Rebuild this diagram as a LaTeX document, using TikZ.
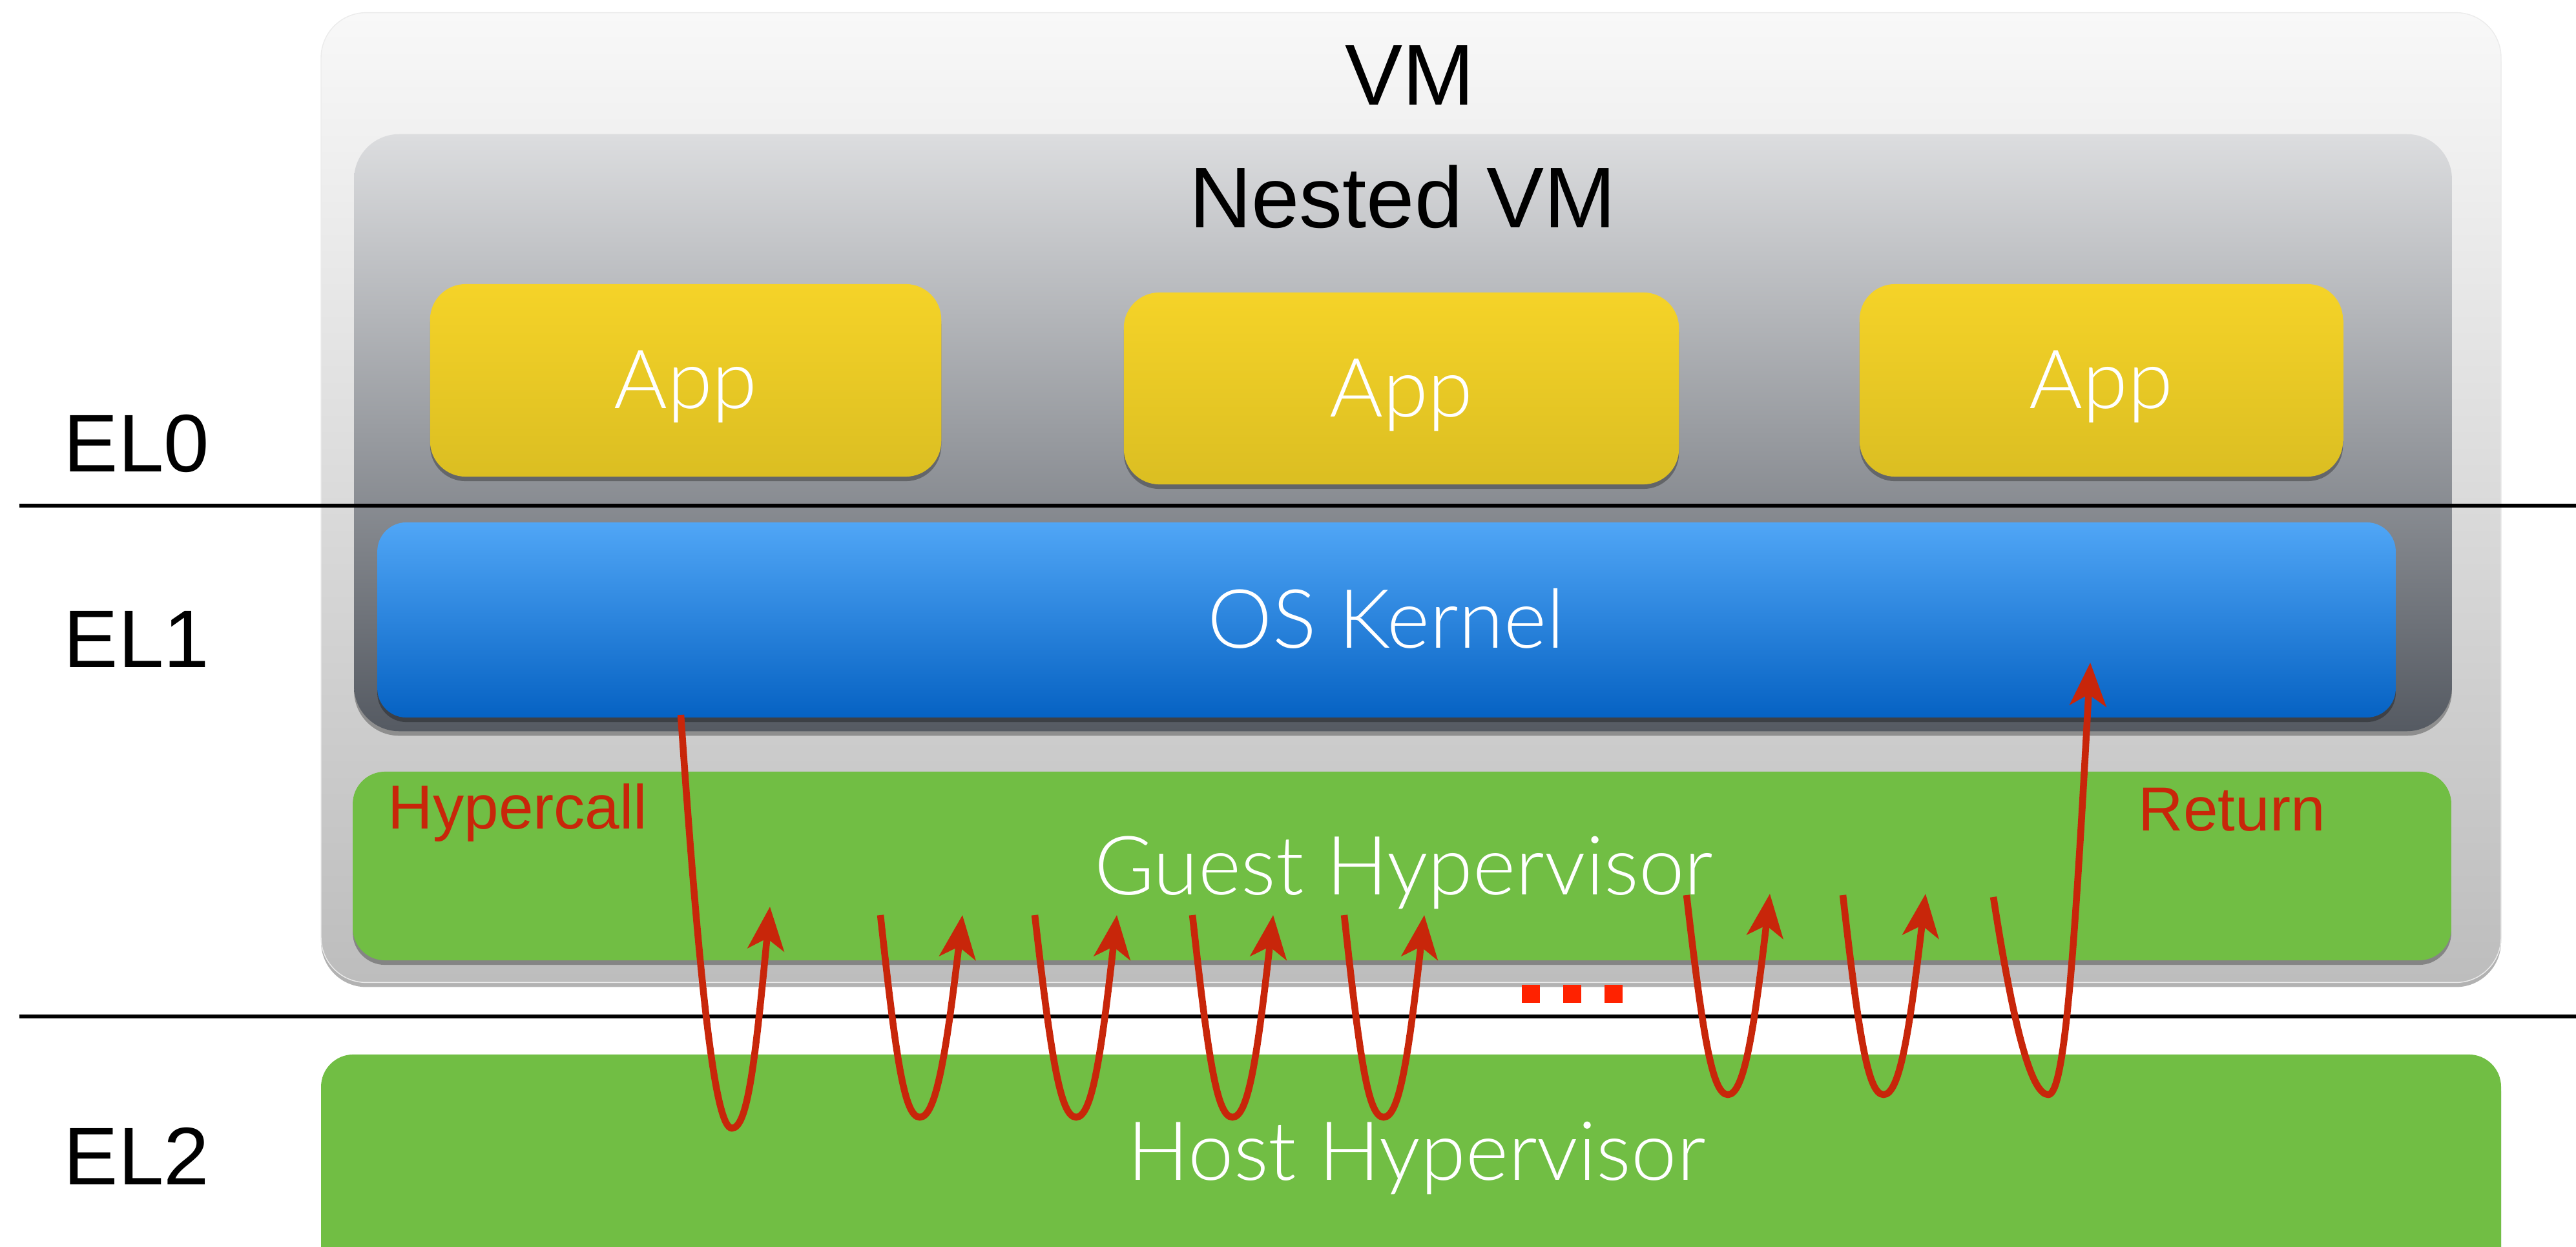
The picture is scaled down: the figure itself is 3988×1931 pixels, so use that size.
\documentclass[tikz,border=0pt]{standalone}
\usepackage{fontspec}
\setmainfont{Liberation Sans}
\newfontfamily\gillfont{Lato Light}
\usetikzlibrary{arrows.meta,calc,shadows}

\definecolor{vmtop}{HTML}{F8F8F8}
\definecolor{vmbot}{HTML}{BDBDBD}
\definecolor{nesttop}{HTML}{DCDDDF}
\definecolor{nestbot}{HTML}{555A62}
\definecolor{apptop}{HTML}{F5D328}
\definecolor{appbot}{HTML}{DBBE22}
\definecolor{ostop}{HTML}{50A6F6}
\definecolor{osbot}{HTML}{0662C3}
\definecolor{hvgreen}{HTML}{71BE44}
\definecolor{callred}{HTML}{C8260A}
\definecolor{dotred}{HTML}{FF2200}

\begin{document}
\begin{tikzpicture}[x=0.01cm,y=-0.01cm,
  layer/.style={rectangle, inner sep=0pt, outer sep=0pt, rounded corners=#1,
    drop shadow={shadow xshift=0pt, shadow yshift=-2pt, opacity=0.3, fill=black}},
  layer/.default=0.6cm,
  darktxt/.style={inner sep=0pt, text=black, font=\fontsize{38}{40}\selectfont},
  eltxt/.style={inner sep=0pt, text=black, font=\fontsize{36}{40}\selectfont},
  lighttxt/.style={inner sep=0pt, text=white, font=\gillfont\fontsize{36}{40}\selectfont},
  redtxt/.style={inner sep=0pt, text=callred, font=\fontsize{27.4}{30}\selectfont},
  level/.style={line width=1.45pt, draw=black},
  trap/.style={draw=callred, line width=3pt,
    -{Stealth[length=19pt, width=16pt, inset=5pt]}},
  dotsq/.style={rectangle, fill=dotred, inner sep=0pt, minimum size=0.28cm}
]
\useasboundingbox (0,0) rectangle (3988,1931);

% outer VM and nested VM containers
\node[layer=0.7cm, top color=vmtop, bottom color=vmbot, draw=black!8, line width=0.4pt,
      minimum width=33.73cm, minimum height=15.01cm] (vm) at (2184.5,770.5) {};
\node[layer=0.7cm, top color=nesttop, bottom color=nestbot,
      minimum width=32.46cm, minimum height=9.24cm] (nested) at (2172,670) {};

% applications
\node[layer=0.55cm, top color=apptop, bottom color=appbot,
      minimum width=7.91cm, minimum height=2.98cm] (app1) at (1061.5,589) {};
\node[layer=0.55cm, top color=apptop, bottom color=appbot,
      minimum width=8.59cm, minimum height=2.97cm] (app2) at (2169.5,601.5) {};
\node[layer=0.55cm, top color=apptop, bottom color=appbot,
      minimum width=7.48cm, minimum height=2.98cm] (app3) at (3253,589) {};

% kernel and hypervisors
\node[layer=0.45cm, top color=ostop, bottom color=osbot,
      minimum width=31.23cm, minimum height=3.02cm] (kernel) at (2146.5,960) {};
\node[layer=0.5cm, fill=hvgreen,
      minimum width=32.47cm, minimum height=2.92cm] (guest) at (2170.5,1341) {};
\node[layer=0.5cm, fill=hvgreen,
      minimum width=33.73cm, minimum height=4.0cm] (host) at (2184.5,1833) {};

% labels
\node[darktxt, anchor=base] (vmlbl) at (2182.5,163) {VM};
\node[darktxt, anchor=base] (nestedlbl) at (2171.5,353) {Nested VM};
\node[eltxt, anchor=base west] (el0) at (98,731) {EL0};
\node[eltxt, anchor=base west] (el1) at (98,1033) {EL1};
\node[eltxt, anchor=base west] (el2) at (98,1834) {EL2};

\node[lighttxt, anchor=base] (app1lbl) at (1061.5,633) {App};
\node[lighttxt, anchor=base] (app2lbl) at (2169.5,646) {App};
\node[lighttxt, anchor=base] (app3lbl) at (3253,633) {App};
\node[lighttxt, anchor=base] (kernellbl) at (2146,1003) {OS Kernel};
\node[lighttxt, anchor=base] (guestlbl) at (2173,1385) {Guest Hypervisor};
\node[lighttxt, anchor=base] (hostlbl) at (2193,1827) {Host Hypervisor};

\node[redtxt, anchor=base west] (hcall) at (600,1283) {Hypercall};
\node[redtxt, anchor=base west] (ret) at (3310,1286) {Return};

% exception level boundaries
\coordinate (el0a) at (30,783);  \coordinate (el0b) at (3988,783);
\coordinate (el2a) at (30,1574); \coordinate (el2b) at (3988,1574);
\draw[level] (el0a) -- (el0b);
\draw[level] (el2a) -- (el2b);

% trap round trips: start, lowest point, arrow tip
\coordinate (s1) at (1054,1107); \coordinate (b1) at (1133,1747); \coordinate (t1) at (1192,1404);
\coordinate (s2) at (1363,1417); \coordinate (b2) at (1424,1730); \coordinate (t2) at (1490,1417);
\coordinate (s3) at (1602,1417); \coordinate (b3) at (1666,1730); \coordinate (t3) at (1729,1417);
\coordinate (s4) at (1846,1417); \coordinate (b4) at (1908,1730); \coordinate (t4) at (1971,1417);
\coordinate (s5) at (2081,1417); \coordinate (b5) at (2142,1730); \coordinate (t5) at (2205,1417);
\coordinate (s6) at (2611,1386); \coordinate (b6) at (2675,1695); \coordinate (t6) at (2740,1384);
\coordinate (s7) at (2853,1386); \coordinate (b7) at (2916,1695); \coordinate (t7) at (2981,1384);
\coordinate (s8) at (3086,1389); \coordinate (b8) at (3171,1695); \coordinate (t8) at (3236,1026);

\foreach \i in {1,...,8}{
  \path ($(s\i)!0.4!(b\i)$) coordinate (dx) ($(s\i)!0.72!(b\i)$) coordinate (dy)
        ($(t\i)!0.4!(b\i)$) coordinate (ux) ($(t\i)!0.72!(b\i)$) coordinate (uy);
  \draw[trap] (s\i) .. controls (dx |- dy) and ($(b\i)+(-24,0)$) .. (b\i)
              .. controls ($(b\i)+(24,0)$) and (ux |- uy) .. (t\i);
}

% ellipsis between the round trips
\node[dotsq] (dot1) at (2370,1539) {};
\node[dotsq] (dot2) at (2434,1539) {};
\node[dotsq] (dot3) at (2498,1539) {};
\end{tikzpicture}
\end{document}
